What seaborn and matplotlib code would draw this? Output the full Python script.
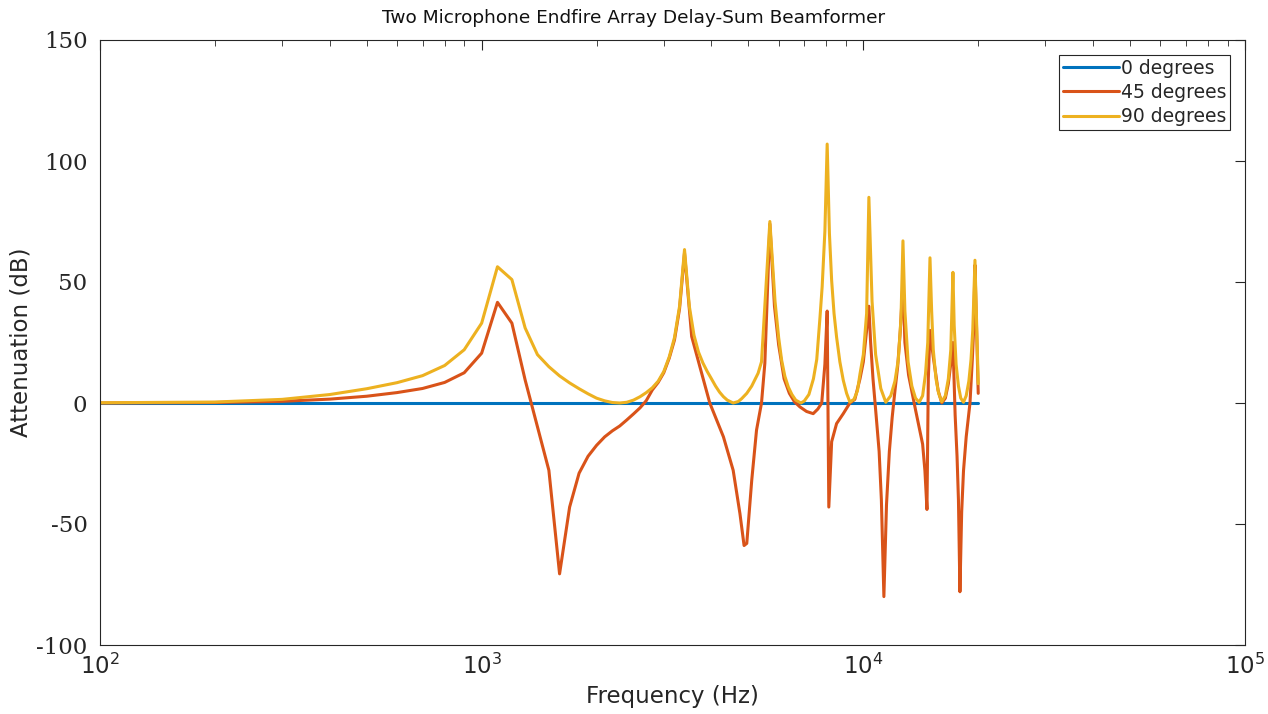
import matplotlib
matplotlib.use("Agg")
import matplotlib.pyplot as plt
import pandas as pd
import seaborn as sns

# 数据: 频率 (Hz) 与衰减 (dB)
freq_0 = [100, 20000]
att_0 = [0, 0]

freq_45 = [100, 200, 300, 400, 500, 600, 700, 800, 900, 1000, 1100, 1200, 1300, 1400,
           1500, 1600, 1700, 1800, 1900, 2000, 2100, 2200, 2300, 2400, 2500, 2600, 2700,
           2800, 2900, 3000, 3100, 3200, 3300, 3400, 3550, 3730, 3960, 4300, 4560, 4750,
           4870, 4950, 5100, 5250, 5410, 5520, 5690, 5850, 6000, 6200, 6400, 6600, 6820,
           7100, 7390, 7600, 7780, 7930, 8040, 8120, 8260, 8510, 8860, 9220, 9500, 9800,
           10000, 10200, 10340, 10450, 10600, 10800, 11000, 11150, 11320, 11500, 11700,
           11900, 12100, 12300, 12500, 12700, 12850, 13140, 13700, 14300, 14500, 14680,
           14800, 14950, 15250, 15700, 16050, 16400, 16700, 17000, 17170, 17400, 17600,
           17750, 17910, 18100, 18300, 18600, 19030, 19300, 19450, 19610, 20000]
att_45 = [0.0, 0.2, 0.7, 1.6, 2.8, 4.3, 6.0, 8.5, 12.5, 20.6, 41.6, 33, 9.5, -9.8,
          -27.8, -70.6, -43, -29, -22, -17.5, -14, -11.5, -9.5, -7, -4.5, -2, 1,
          5.4, 8.5, 12.5, 18.5, 26, 39, 62, 27.5, 15, 0, -14, -27.8, -45.7,
          -58.9, -58, -32, -11.2, 0, 16.4, 74, 40, 24, 10, 4, 0.5, -1.6,
          -3.5, -4.4, -2.5, 0, 16, 38, -43, -16, -8.5, -4.4, 0, 1.5, 10,
          17, 30, 40, 25, 10, -5, -20, -40, -80, -42, -20,
          -6, 5, 15, 30, 50, 25, 11.5, -2.8, -17, -28, -44,
          10, 30, 19, 5.2, 0, 2, 8, 18, 25, -5, -22,
          -40, -78, -45, -28, -14, 0, 18, 30, 57, 4]

freq_90 = [100, 200, 300, 400, 500, 600, 700, 800, 900, 1000, 1100, 1200, 1300, 1400,
           1500, 1600, 1700, 1800, 1900, 2000, 2100, 2200, 2300, 2400, 2500, 2600, 2700,
           2800, 2900, 3000, 3100, 3200, 3300, 3400, 3500, 3600, 3700, 3800, 3900, 4000,
           4100, 4200, 4300, 4400, 4560, 4700, 4800, 4950, 5100, 5300, 5410, 5690, 5870,
           6000, 6110, 6230, 6360, 6500, 6650, 6860, 7000, 7200, 7400, 7550, 7700, 7800,
           7930, 8040, 8150, 8260, 8380, 8510, 8680, 8860, 9040, 9220, 9450, 9650, 9800,
           10000, 10200, 10340, 10540, 10770, 11110, 11450, 11800, 12100, 12350, 12550,
           12700, 12850, 13100, 13400, 13700, 14000, 14300, 14550, 14750, 14950, 15100,
           15250, 15500, 15750, 16050, 16400, 16700, 16950, 17170, 17300, 17500, 17750,
           18000, 18300, 18600, 18900, 19150, 19350, 19610, 20000]
att_90 = [0.1, 0.4, 1.5, 3.5, 5.9, 8.4, 11.3, 15.5, 22, 33, 56.3, 51, 31, 20,
          15, 11.2, 8.3, 5.9, 3.8, 2.0, 0.9, 0.2, 0.0, 0.3, 1.2, 2.6, 4.3,
          6.3, 9, 13, 19, 27, 40, 63.4, 40, 28, 21, 16.5, 13, 10,
          7, 4.5, 2.6, 1.2, 0.0, 0.6, 1.8, 4.0, 7.0, 12.3, 17, 75, 42,
          27, 17.6, 11, 6.6, 3.5, 1.2, 0.0, 0.8, 3.5, 10, 18, 35.5, 48,
          71, 107, 70, 50.6, 37, 27.2, 17, 9.4, 4, 0.4, 1.5, 5, 12,
          20, 37, 85, 42, 20, 6, 0.3, 3, 9, 18, 35,
          67, 38, 17, 7, 2, 0.3, 3, 12, 25, 60, 38,
          22, 10, 4, 0.5, 3, 10, 22, 54, 32, 16, 7,
          2, 0.3, 3, 9, 18, 30, 59, 8]

labels = ['0 degrees', '45 degrees', '90 degrees']
colors = ['#0072BD', '#D95319', '#EDB120']

df = pd.concat([
    pd.DataFrame({'freq': freq_0, 'att': att_0, 'angle': labels[0]}),
    pd.DataFrame({'freq': freq_45, 'att': att_45, 'angle': labels[1]}),
    pd.DataFrame({'freq': freq_90, 'att': att_90, 'angle': labels[2]}),
], ignore_index=True)

sns.set_theme(style="white")
plt.rcParams['font.family'] = ['DejaVu Sans']
plt.rcParams['mathtext.fontset'] = 'dejavuserif'
plt.rcParams['axes.unicode_minus'] = False
plt.rcParams['axes.edgecolor'] = '#262626'
plt.rcParams['axes.linewidth'] = 0.8

fig = plt.figure(figsize=(12.68, 7.14), dpi=100)
ax = fig.add_axes([100 / 1268, 1 - 645 / 714, 1145 / 1268, 605 / 714])

sns.lineplot(data=df, x='freq', y='att', hue='angle', hue_order=labels,
             palette=colors, estimator=None, sort=False, linewidth=2.2, ax=ax)

ax.set_xscale('log')
ax.set_xlim(100, 1e5)
ax.set_ylim(-100, 150)
ax.set_yticks([-100, -50, 0, 50, 100, 150])

ax.tick_params(axis='both', which='both', direction='in', top=True, right=True,
               colors='#262626', labelcolor='#262626')
ax.tick_params(axis='both', which='major', length=7, width=0.8, labelsize=16.5)
ax.tick_params(axis='y', which='major', pad=9)
ax.tick_params(axis='x', which='major', pad=6)
ax.tick_params(axis='x', which='minor', length=4, width=0.6)
for lab in ax.get_yticklabels():
    lab.set_family('DejaVu Serif')

fig.text(0.5, 1 - 18 / 714, 'Two Microphone Endfire Array Delay-Sum Beamformer',
         fontsize=13.3, ha='center', va='center', color='#111111')
ax.set_xlabel('Frequency (Hz)', fontsize=16.5, labelpad=5)
ax.set_ylabel('Attenuation (dB)', fontsize=16.5, labelpad=3)

handles, lbls = ax.get_legend_handles_labels()
leg = ax.legend(handles, lbls, loc='upper right', fontsize=13.5, frameon=True,
                fancybox=False, edgecolor='#262626', framealpha=1,
                handlelength=3.0, handletextpad=0.1, labelspacing=0.28,
                borderpad=0.2, borderaxespad=0.8)
leg.get_frame().set_linewidth(0.8)

fig.savefig('out.png', dpi=100)
